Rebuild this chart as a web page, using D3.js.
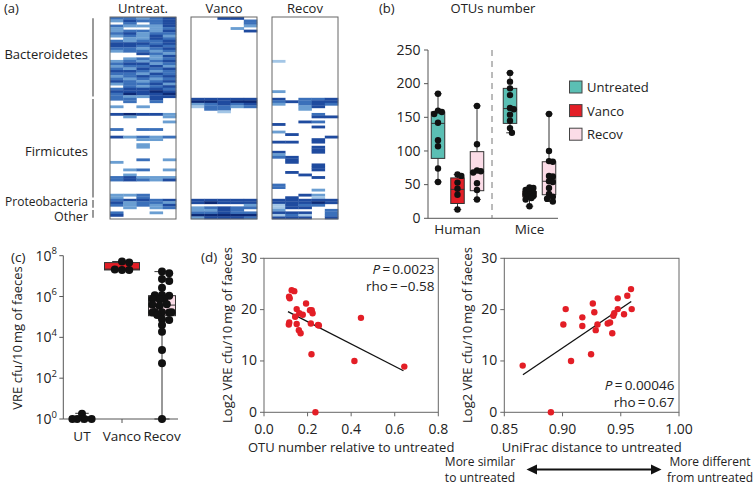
<!DOCTYPE html>
<html><head><meta charset="utf-8">
<script src="https://cdn.jsdelivr.net/npm/d3@7"></script>
<style>
body{margin:0;background:#fff}
svg{display:block;font-family:'Open Sans','Noto Sans',sans-serif;}
</style>
</head><body><svg id="fig" width="756" height="485"></svg>
<script>
// ---------------- DATA ----------------
// (a) heatmap: each string = one OTU row, 5 samples, intensity 0 (absent) .. 5 (high)
const heatPanels = ["Untreat.", "Vanco", "Recov"];
const phyla = ["Bacteroidetes", "Firmicutes", "Proteobacteria", "Other"];
const phylumRowCounts = [32, 40, 4, 4];
const heatUntreated = [
"33234","24334","03034","32224","20023","23324","34233","23242","02243","32334",
"44434","44343","33234","23323","00432","00024","02323","23234","34423","23342",
"32434","44323","33243","23434","32323","43234","23342","03234","34443","44454",
"35445","32244",
"33040","03030","00000","20200","00000","00000","45442","02002","00000","00002",
"00000","00000","30330","00000","00000","42323","00220","00000","00200","00200",
"00000","00000","00000","00000","00302","20000","00000","00000","02302","00000",
"02000","34222","34324","00000","00000","00000","00000","00000","22300","20300",
"34434","42332","32324","02023",
"00000","30020","40000","00000"];
const heatVanco = [
"00440","00003","00003","00002","00020","00004","00000","00000","00000","00000",
"00000","00000","00000","00000","00000","00000","00000","00000","00000","00000",
"00000","00000","00000","00000","00000","00000","00000","00000","00000","00000",
"00000","00000",
"44444","55455","23434","13323","03300","00100","00000","00000","00000","00000",
"00000","00000","00000","00000","00000","00000","00000","00000","00000","00000",
"00000","00000","00000","00000","00000","00000","00000","00000","00000","00000",
"00000","00000","00000","00000","00000","00000","00000","00000","00000","00000",
"44444","45444","00002","23433",
"22430","33433","55555","24443"];
const heatRecov = [
"00000","00000","00000","00000","00000","00000","00000","00000","00000","00000",
"00000","00000","00000","00000","00000","00000","00000","10000","00000","00000",
"00000","00000","00000","00000","00000","00000","00000","00000","00000","20000",
"00000","00000",
"40334","34344","20343","00240","00200","00000","00030","00044","00000","00430",
"40000","00040","00000","20000","04000","00004","00040","44040","00000","00040",
"00040","40040","20000","34000","04000","04000","00040","00040","00040","04000",
"00400","00040","00000","00000","30000","30000","00020","00000","00420","04010",
"44444","44454","14330","14400",
"20003","44403","13103","44404"];
const heatColors = ["#ffffff","#a3c6e6","#6a9ed2","#3b70ba","#1f4b9f","#0d2a76"];

// (b) OTUs number
const bGroups = ["Human", "Mice"];
const bTreatments = ["Untreated", "Vanco", "Recov"];
const bHumanUntreated = [185, 160, 158, 155, 142, 116, 107, 74, 54];
const bHumanVanco = [65, 63, 53, 44, 35, 13];
const bHumanRecov = [167, 110, 71, 70, 68, 52, 42, 28];
const bMiceUntreated = [216, 203, 193, 183, 164, 162, 154, 145, 134, 127];
const bMiceVanco = [46, 45, 42, 40, 38, 36, 35, 33, 32, 30, 28, 18];
const bMiceRecov = [155, 100, 85, 84, 63, 62, 55, 54, 45, 36, 32, 29, 25];
// box stats [whiskerLow, q1, median, q3, whiskerHigh]
const bBoxHuman = [[54, 89, 141, 158, 185], [13, 22, 43, 60, 65], [28, 41, 68, 99, 167]];
const bBoxMice = [[127, 141, 163, 193, 216], [18, 32, 36, 40, 46], [25, 35, 55, 84, 155]];
const bTicks = [0, 50, 100, 150, 200, 250];
const treatColors = ["#5bbfb4", "#e31e26", "#fbdce7"];

// (c) VRE cfu / 10 mg faeces
const cCategories = ["UT", "Vanco", "Recov"];
const cUT = [1.8, 1, 1, 1, 1];
const cVanco = [5.2e7, 4.6e7, 2.0e7, 2.0e7, 2.1e7];
const cRecov = [1.66e7, 1.38e7, 7.2e6, 5.8e6, 2.7e6, 1.2e6, 1.1e6, 1.15e6, 7.6e5, 7.2e5, 7.6e5,
  4.2e5, 3.5e5, 4.0e5, 1.7e5, 1.66e5, 1.74e5, 1.7e5, 1.66e5, 1.26e5, 7.6e4, 7.1e4, 4.0e4, 1.9e4,
  2.4e3, 5.4e2, 1];
const cBox = [[1, 1, 1, 1.3, 1.9], [2.0e7, 2.0e7, 2.2e7, 4.6e7, 5.2e7], [1, 1.15e5, 3.8e5, 1.1e6, 1.66e7]];
const cTickExps = [0, 2, 4, 6, 8];

// (d) left: OTU number relative to untreated vs log2 VRE
const dLeftX = [0.115, 0.118, 0.127, 0.139, 0.116, 0.114, 0.150, 0.143, 0.150, 0.162, 0.178, 0.160,
  0.168, 0.193, 0.211, 0.219, 0.223, 0.215, 0.218, 0.248, 0.252, 0.236, 0.415, 0.445, 0.644];
const dLeftY = [22.5, 22.2, 23.8, 23.6, 17.5, 17.1, 20.1, 18.6, 17.2, 19.3, 19.0, 16.0,
  15.4, 21.2, 19.9, 19.9, 19.3, 17.3, 11.3, 17.0, 16.9, 0, 10.0, 18.4, 8.9];
const dLeftFit = [[0.11, 19.6], [0.64, 8.1]];
const dLeftTicksX = [0, 0.2, 0.4, 0.6, 0.8];
// (d) right: UniFrac distance vs log2 VRE
const dRightX = [0.8658, 0.890, 0.9007, 0.9027, 0.9073, 0.917, 0.917, 0.9245, 0.926, 0.9273, 0.9285,
  0.930, 0.9388, 0.9408, 0.9427, 0.9436, 0.9444, 0.9474, 0.9474, 0.9528, 0.9556, 0.9588, 0.9594];
const dRightY = [9.1, 0, 17.1, 20.1, 10.0, 18.5, 16.8, 11.3, 21.2, 19.5, 16.0,
  17.1, 17.3, 17.5, 15.4, 18.8, 19.3, 22.2, 20.1, 19.1, 22.7, 24.0, 20.1];
const dRightFit = [[0.866, 7.3], [0.959, 21.6]];
const dRightTicksX = [0.85, 0.90, 0.95, 1.00];
const dTicksY = [0, 10, 20, 30];

// ---------------- DRAW ----------------
const svg = d3.select("#fig");
const TXT = "#222", AX = "#555";
const text = (g, x, y, s, opt = {}) => g.append("text").attr("x", x).attr("y", y)
  .attr("font-size", opt.size || 13).attr("fill", TXT)
  .attr("text-anchor", opt.anchor || "start").text(s);

// ===== (a) heatmap =====
const ga = svg.append("g");
text(ga, 4, 12.5, "(a)");
const px = d3.scaleBand().domain(heatPanels).range([110, 338]).paddingInner(15 / 81);
const ry = d3.scaleBand().domain(d3.range(80)).range([17, 219]);
const cx = d3.scaleBand().domain(d3.range(5)).range([0, px.bandwidth()]);
const heatData = [heatUntreated, heatVanco, heatRecov];
heatPanels.forEach((p, pi) => {
  const g = ga.append("g").attr("transform", `translate(${px(p)},0)`);
  heatData[pi].forEach((row, r) => {
    row.split("").forEach((c, ci) => {
      const v = +c;
      if (!v) return;
      g.append("rect").attr("x", cx(ci)).attr("y", ry(r))
        .attr("width", cx.bandwidth() + 0.3).attr("height", ry.bandwidth() + 0.3)
        .attr("fill", heatColors[v]);
    });
  });
  g.append("rect").attr("x", 0).attr("y", 17).attr("width", px.bandwidth()).attr("height", 202)
    .attr("fill", "none").attr("stroke", "#666").attr("stroke-width", 1);
  text(ga, px(p) + px.bandwidth() / 2, 12.5, p, {anchor: "middle"});
});
let startRow = 0;
const labelNudge = [-3, 3, -2.5, 3];
const labelSizes = [13, 13, 12, 12.5];
phyla.forEach((ph, i) => {
  const y0 = ry(startRow), y1 = ry(startRow + phylumRowCounts[i] - 1) + ry.bandwidth();
  ga.append("line").attr("x1", 93).attr("x2", 93).attr("y1", y0 + 1.2).attr("y2", y1 - 1.2)
    .attr("stroke", "#555").attr("stroke-width", 1.2);
  text(ga, 88, (y0 + y1) / 2 + 4.5 + labelNudge[i], ph, {anchor: "end", size: labelSizes[i]});
  startRow += phylumRowCounts[i];
});

// ===== (b) OTUs number =====
const gb = svg.append("g");
text(gb, 379, 12.5, "(b)");
text(gb, 493, 12.5, "OTUs number", {anchor: "middle"});
const by = d3.scaleLinear().domain([0, 250]).range([218.3, 50]);
const bx = d3.scaleBand().domain(bGroups).range([421.5, 565.5]);
const bxi = d3.scaleBand().domain(bTreatments).range([-29.25, 29.25]);
gb.append("line").attr("x1", 428).attr("x2", 428).attr("y1", by(250)).attr("y2", by(0)).attr("stroke", AX);
gb.append("line").attr("x1", 428).attr("x2", 558).attr("y1", by(0)).attr("y2", by(0)).attr("stroke", AX);
bTicks.forEach(t => {
  gb.append("line").attr("x1", 424).attr("x2", 428).attr("y1", by(t)).attr("y2", by(t)).attr("stroke", AX);
  text(gb, 420.5, by(t) + 4.8, t, {anchor: "end", size: 14});
});
gb.append("line").attr("x1", 492).attr("x2", 492).attr("y1", by(250)).attr("y2", by(0))
  .attr("stroke", "#777").attr("stroke-dasharray", "6,5");
bGroups.forEach(gname => text(gb, bx(gname) + bx.bandwidth() / 2, 234, gname, {anchor: "middle", size: 13.5}));

function swarm(vals, yScale, r, spacing, maxOff) {
  const placed = [];
  return vals.map(v => {
    const y = yScale(v);
    let best = 0, bestD = -1;
    for (let k = 0; k < 60; k++) {
      const cand = k === 0 ? 0 : (k % 2 ? 1 : -1) * Math.ceil(k / 2) * r * 0.6;
      if (Math.abs(cand) > maxOff) break;
      const dmin = placed.length ? d3.min(placed, p => Math.hypot(p.x - cand, p.y - y)) : 1e9;
      if (dmin >= 2 * r * spacing) { best = cand; bestD = 1e9; break; }
      if (dmin > bestD) { bestD = dmin; best = cand; }
    }
    placed.push({x: best, y});
    return {x: best, y};
  });
}
function boxplot(g, cxp, w, stats, yScale, fill, pts, r, spacing, maxOff) {
  const [lo, q1, med, q3, hi] = stats;
  g.append("line").attr("x1", cxp).attr("x2", cxp).attr("y1", yScale(hi)).attr("y2", yScale(lo))
    .attr("stroke", "#333").attr("stroke-width", 1);
  [lo, hi].forEach(v => g.append("line").attr("x1", cxp - w * 0.28).attr("x2", cxp + w * 0.28)
    .attr("y1", yScale(v)).attr("y2", yScale(v)).attr("stroke", "#333"));
  g.append("rect").attr("x", cxp - w / 2).attr("y", yScale(q3)).attr("width", w)
    .attr("height", Math.max(1, yScale(q1) - yScale(q3))).attr("fill", fill).attr("stroke", "#333");
  g.append("line").attr("x1", cxp - w / 2).attr("x2", cxp + w / 2).attr("y1", yScale(med)).attr("y2", yScale(med))
    .attr("stroke", "#333");
  swarm(pts, yScale, r, spacing, maxOff).forEach(p => g.append("circle").attr("cx", cxp + p.x).attr("cy", p.y)
    .attr("r", r).attr("fill", "#111"));
}
const bPoints = {Human: [bHumanUntreated, bHumanVanco, bHumanRecov], Mice: [bMiceUntreated, bMiceVanco, bMiceRecov]};
const bBoxes = {Human: bBoxHuman, Mice: bBoxMice};
bGroups.forEach(gname => {
  bTreatments.forEach((t, ti) => {
    const c = bx(gname) + bx.bandwidth() / 2 + bxi(t) + bxi.bandwidth() / 2;
    boxplot(gb, c, 13.5, bBoxes[gname][ti], by, treatColors[ti], bPoints[gname][ti], 3.2, 0.75, 5.5);
  });
});
bTreatments.forEach((t, i) => {
  const y = 81 + i * 23.6;
  gb.append("rect").attr("x", 569.5).attr("y", y).attr("width", 12.5).attr("height", 12)
    .attr("fill", treatColors[i]).attr("stroke", "#444");
  text(gb, 587, y + 11, t, {size: 13});
});

// ===== (c) VRE =====
const gc = svg.append("g");
text(gc, 11, 262, "(c)", {size: 13.5});
const cy = d3.scaleLog().domain([1, 1e8]).range([419, 255.7]);
const cxs = d3.scaleBand().domain(cCategories).range([62, 182]);
gc.append("line").attr("x1", 63.3).attr("x2", 63.3).attr("y1", cy(1e8)).attr("y2", cy(1)).attr("stroke", AX);
gc.append("line").attr("x1", 63.3).attr("x2", 178).attr("y1", cy(1)).attr("y2", cy(1)).attr("stroke", AX);
cTickExps.forEach(e => {
  const y = cy(Math.pow(10, e));
  gc.append("line").attr("x1", 59.3).attr("x2", 63.3).attr("y1", y).attr("y2", y).attr("stroke", AX);
  const t = gc.append("text").attr("x", 57).attr("y", y + 5).attr("text-anchor", "end")
    .attr("fill", TXT).attr("font-size", 14);
  t.append("tspan").text("10");
  t.append("tspan").attr("dy", -6.5).attr("font-size", 9.5).text(e);
});
gc.append("text").attr("transform", "translate(22,338) rotate(-90)").attr("text-anchor", "middle")
  .attr("font-size", 13).attr("fill", TXT).text("VRE cfu/10\u2009mg of faeces");
const cPts = [cUT, cVanco, cRecov];
const cWidths = [24, 35, 27];
cCategories.forEach((cat, i) => {
  const c = cxs(cat) + cxs.bandwidth() / 2;
  gc.append("line").attr("x1", c).attr("x2", c).attr("y1", cy(1)).attr("y2", cy(1) + 4).attr("stroke", AX);
  text(gc, c, 441, cat, {anchor: "middle", size: 13.5});
  boxplot(gc, c, cWidths[i], cBox[i], cy, treatColors[i], cPts[i], 4, 0.7, 10);
});

// ===== (d) scatter panels =====
const gd = svg.append("g");
text(gd, 201, 262, "(d)", {size: 13.5});
function scatter(xDom, xRange, xTicks, fmt, xs, ys, fit, xTitle, yTitleX) {
  const x = d3.scaleLinear().domain(xDom).range(xRange);
  const y = d3.scaleLinear().domain([0, 30]).range([412.3, 258.3]);
  const g = gd.append("g");
  g.append("rect").attr("x", xRange[0]).attr("y", y(30)).attr("width", xRange[1] - xRange[0])
    .attr("height", y(0) - y(30)).attr("fill", "none").attr("stroke", "#666");
  xTicks.forEach(t => {
    g.append("line").attr("x1", x(t)).attr("x2", x(t)).attr("y1", y(0)).attr("y2", y(0) + 4).attr("stroke", "#666");
    text(g, x(t), 434, d3.format(fmt)(t), {anchor: "middle", size: 14});
  });
  dTicksY.forEach(t => {
    g.append("line").attr("x1", xRange[0] - 4).attr("x2", xRange[0]).attr("y1", y(t)).attr("y2", y(t)).attr("stroke", "#666");
    text(g, xRange[0] - 7, y(t) + 4.5, t, {anchor: "end", size: 14});
  });
  text(g, (xRange[0] + xRange[1]) / 2, 451.5, xTitle, {anchor: "middle", size: 13});
  g.append("text").attr("transform", `translate(${yTitleX},335) rotate(-90)`).attr("text-anchor", "middle")
    .attr("font-size", 13).attr("fill", TXT).text("Log2 VRE cfu/10\u2009mg of faeces");
  g.append("line").attr("x1", x(fit[0][0])).attr("y1", y(fit[0][1])).attr("x2", x(fit[1][0])).attr("y2", y(fit[1][1]))
    .attr("stroke", "#111").attr("stroke-width", 1.3);
  xs.forEach((xv, i) => g.append("circle").attr("cx", x(xv)).attr("cy", y(ys[i])).attr("r", 3.2).attr("fill", "#e31e26"));
  return g;
}
const gl = scatter([0, 0.8], [264, 438.3], dLeftTicksX, ".1f", dLeftX, dLeftY, dLeftFit,
  "OTU number relative to untreated", 232);
const gr = scatter([0.85, 1.0], [504.3, 679], dRightTicksX, ".2f", dRightX, dRightY, dRightFit,
  "UniFrac distance to untreated", 472);
function stat(g, x, y, pval, rho) {
  const t1 = g.append("text").attr("x", x).attr("y", y).attr("text-anchor", "end").attr("font-size", 13.5).attr("fill", TXT);
  t1.append("tspan").attr("font-style", "italic").text("P");
  t1.append("tspan").text("\u2009=\u2009" + pval);
  g.append("text").attr("x", x).attr("y", y + 16.5).attr("text-anchor", "end").attr("font-size", 13.5)
    .attr("fill", TXT).text("rho\u2009=\u2009" + rho);
}
stat(gl, 434.5, 274, "0.0023", "\u22120.58");
stat(gr, 674.5, 390, "0.00046", "0.67");
text(gd, 480, 465.5, "More similar", {anchor: "middle", size: 12});
text(gd, 480, 481.5, "to untreated", {anchor: "middle", size: 12});
text(gd, 710, 465.5, "More different", {anchor: "middle", size: 12});
text(gd, 710, 481.5, "from untreated", {anchor: "middle", size: 12});
gd.append("line").attr("x1", 535).attr("x2", 653).attr("y1", 469.5).attr("y2", 469.5).attr("stroke", "#111").attr("stroke-width", 2);
gd.append("path").attr("d", "M526.5,469.5 L537,464.5 L537,474.5 Z").attr("fill", "#111");
gd.append("path").attr("d", "M661.5,469.5 L651,464.5 L651,474.5 Z").attr("fill", "#111");
</script></body></html>
